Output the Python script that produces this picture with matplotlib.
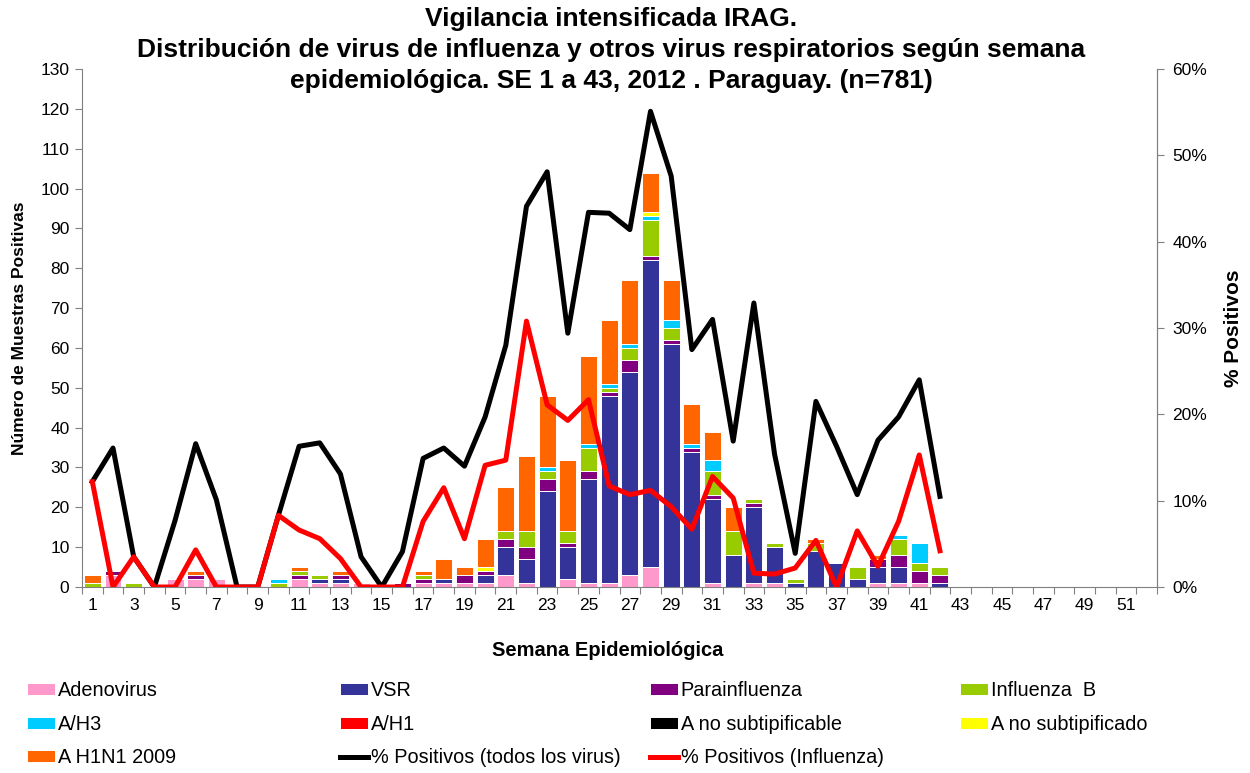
import numpy as np
import matplotlib
matplotlib.use('Agg')
import matplotlib.pyplot as plt
from matplotlib.ticker import FixedLocator, PercentFormatter

plt.rcParams['font.family'] = ['Liberation Sans', 'DejaVu Sans']

# semanas epidemiologicas 1-42 con datos (eje hasta la 52)
semanas = list(range(1, 43))
etiquetas_x = [str(s) for s in range(1, 53, 2)]

# numero de muestras positivas por virus y semana
adenovirus = [0, 3, 0, 0, 2, 2, 2, 0, 0, 0, 2, 1, 1, 1, 0, 0, 1, 1, 1, 1,
              3, 1, 0, 2, 1, 1, 3, 5, 0, 0, 1, 0, 1, 1, 0, 0, 0, 0, 1, 1, 1, 0]
vsr = [0, 0, 0, 0, 0, 0, 0, 0, 0, 0, 0, 1, 1, 0, 0, 0, 0, 1, 0, 2,
       7, 6, 24, 8, 26, 47, 51, 77, 61, 34, 21, 8, 19, 9, 1, 9, 6, 2, 4, 4, 0, 1]
parainfluenza = [0, 1, 0, 0, 0, 1, 0, 0, 0, 0, 1, 0, 1, 0, 0, 1, 1, 0, 2, 1,
                 2, 3, 3, 1, 2, 1, 3, 1, 1, 1, 1, 0, 1, 0, 0, 0, 0, 0, 2, 3, 3, 2]
influenza_b = [1, 0, 1, 0, 0, 0, 0, 0, 0, 1, 1, 1, 0, 0, 0, 0, 1, 0, 0, 0,
               2, 4, 2, 3, 6, 1, 3, 9, 3, 0, 6, 6, 1, 1, 1, 2, 0, 3, 0, 4, 2, 2]
a_h3 = [0, 0, 0, 0, 0, 0, 0, 0, 0, 1, 0, 0, 0, 0, 0, 0, 0, 0, 0, 0,
        0, 0, 1, 0, 1, 1, 1, 1, 2, 1, 3, 0, 0, 0, 0, 0, 0, 0, 0, 1, 5, 0]
a_h1 = [0] * 42
a_no_subtipificable = [0] * 42
a_no_subtipificado = [0, 0, 0, 0, 0, 0, 0, 0, 0, 0, 0, 0, 0, 0, 0, 0, 0, 0, 0, 1,
                      0, 0, 0, 0, 0, 0, 0, 1, 0, 0, 0, 0, 0, 0, 0, 0, 0, 0, 0, 0, 0, 0]
a_h1n1_2009 = [2, 0, 0, 0, 0, 1, 0, 0, 0, 0, 1, 0, 1, 0, 0, 0, 1, 5, 2, 7,
               11, 19, 18, 18, 22, 16, 16, 10, 10, 10, 7, 6, 0, 0, 0, 1, 0, 0, 1, 0, 0, 0]

# % positivos
pct_todos = [12.2, 16.1, 3.5, 0, 7.7, 16.6, 10.1, 0, 0, 8.3, 16.3, 16.7, 13.1, 3.5, 0, 4.1,
             14.9, 16.1, 14.0, 19.7, 28.0, 44.1, 48.1, 29.4, 43.4, 43.3, 41.4, 55.1, 47.6,
             27.5, 31.0, 16.9, 32.9, 15.4, 3.9, 21.5, 16.3, 10.7, 17.0, 19.7, 24.0, 10.5]
pct_influenza = [12.2, 0, 3.5, 0, 0, 4.3, 0, 0, 0, 8.3, 6.6, 5.6, 3.3, 0, 0, 0,
                 7.6, 11.5, 5.6, 14.1, 14.7, 30.8, 21.1, 19.3, 21.7, 11.7, 10.7, 11.2, 9.3,
                 6.7, 12.8, 10.3, 1.6, 1.5, 2.2, 5.4, 0, 6.5, 2.4, 7.6, 15.3, 4.2]

series = [
    ('Adenovirus', adenovirus, '#FF99CC'),
    ('VSR', vsr, '#333399'),
    ('Parainfluenza', parainfluenza, '#800080'),
    ('Influenza  B', influenza_b, '#99CC00'),
    ('A/H3', a_h3, '#00CCFF'),
    ('A/H1', a_h1, '#FF0000'),
    ('A no subtipificable', a_no_subtipificable, '#000000'),
    ('A no subtipificado', a_no_subtipificado, '#FFFF00'),
    ('A H1N1 2009', a_h1n1_2009, '#FF6600'),
]

fig = plt.figure(figsize=(12.5, 7.73), dpi=100)
ax = fig.add_axes([0.0656, 0.2406, 0.86, 0.6701])

handles = {}
bottom = np.zeros(len(semanas))
for nombre, valores, color in series:
    b = ax.bar(semanas, valores, width=0.82, bottom=bottom, color=color,
               edgecolor='white', linewidth=0.7, label=nombre)
    handles[nombre] = b
    bottom += np.array(valores)

ax.set_xlim(0.5, 52.5)
ax.set_ylim(0, 130)
ax.set_yticks(range(0, 131, 10))
ax.xaxis.set_major_locator(FixedLocator(np.arange(0.5, 53, 1)))
ax.xaxis.set_minor_locator(FixedLocator(range(1, 53, 2)))
ax.set_xticklabels([], minor=False)
ax.set_xticklabels(etiquetas_x, minor=True)
ax.tick_params(axis='x', which='major', length=5, color='#808080')
ax.tick_params(axis='x', which='minor', length=0, labelsize=12.5, pad=8)
ax.tick_params(axis='y', length=5, color='#808080', labelsize=12.5, pad=4)
for s in ['left', 'bottom', 'right']:
    ax.spines[s].set_color('#808080')
ax.spines['top'].set_visible(False)

ax2 = ax.twinx()
l1, = ax2.plot(semanas, pct_todos, color='black', linewidth=3.6,
               label='% Positivos (todos los virus)')
l2, = ax2.plot(semanas, pct_influenza, color='#FF0000', linewidth=3.6,
               label='% Positivos (Influenza)')
handles[l1.get_label()] = l1
handles[l2.get_label()] = l2
ax2.set_ylim(0, 60)
ax2.set_yticks(range(0, 61, 10))
ax2.yaxis.set_major_formatter(PercentFormatter(decimals=0))
ax2.tick_params(axis='y', length=5, color='#808080', labelsize=12.5, pad=6)
ax2.spines['right'].set_color('#808080')
ax2.spines['top'].set_visible(False)
ax2.spines['left'].set_visible(False)
ax2.spines['bottom'].set_visible(False)

ax.set_ylabel('Número de Muestras Positivas', fontsize=12.5, fontweight='bold')
ax.yaxis.set_label_coords(-0.051, 0.5)
ax2.set_ylabel('% Positivos', fontsize=15, fontweight='bold', labelpad=12)
ax.set_xlabel('Semana Epidemiológica', fontsize=14.5, fontweight='bold')
ax.xaxis.set_label_coords(0.489, -0.105)

fig.text(0.489, 0.991,
         'Vigilancia intensificada IRAG.\n'
         'Distribución de virus de influenza y otros virus respiratorios según semana\n'
         'epidemiológica. SE 1 a 43, 2012 . Paraguay. (n=781)',
         ha='center', va='top', fontsize=19, fontweight='bold', linespacing=1.38)

# leyenda en 4 columnas como en el original
columnas = [
    ['Adenovirus', 'A/H3', 'A H1N1 2009'],
    ['VSR', 'A/H1', '% Positivos (todos los virus)'],
    ['Parainfluenza', 'A no subtipificable', '% Positivos (Influenza)'],
    ['Influenza  B', 'A no subtipificado'],
]
xs = [27, 340, 650, 960]
for xpix, nombres in zip(xs, columnas):
    fig.legend([handles[n] for n in nombres], nombres, loc='upper left',
               bbox_to_anchor=(xpix / 1250, 1 - 681 / 773), frameon=False,
               fontsize=14.3, borderpad=0, borderaxespad=0, handlelength=1.4,
               handleheight=0.55, handletextpad=0.15, labelspacing=0.74)

fig.savefig('out.png', dpi=100)
